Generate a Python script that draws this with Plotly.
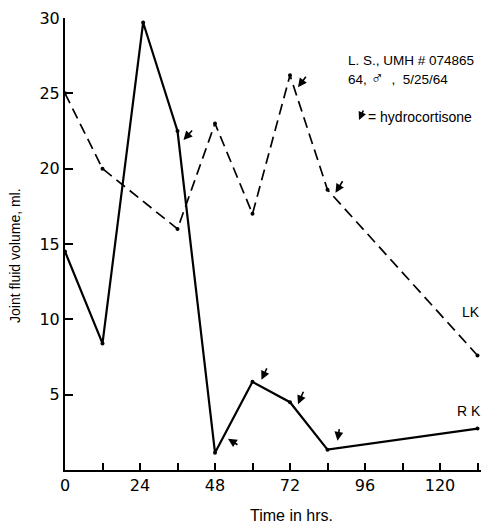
import plotly.graph_objects as go

# Data (time in hrs, joint fluid volume in ml)
rk_time = [0, 12, 25, 36, 48, 60, 72, 84, 132]
rk_vol = [14.5, 8.4, 29.7, 22.5, 1.15, 5.85, 4.5, 1.35, 2.75]
lk_time = [0, 12, 36, 48, 60, 72, 84, 132]
lk_vol = [25.0, 20.0, 16.0, 23.0, 17.0, 26.2, 18.6, 7.6]

x_tickvals = [0, 24, 48, 72, 96, 120]
y_tickvals = [5, 10, 15, 20, 25, 30]

# hydrocortisone doses: index of point in each series
rk_doses = [3, 4, 5, 6, 7]
lk_doses = [5, 6]

PAGE_W, PAGE_H = 481, 524
P_LEFT, P_TOP, P_BOTTOM, P_RIGHT = 65, 18, 470, 481
W, H = PAGE_W, PAGE_H
L = P_LEFT
T = P_TOP
pw = P_RIGHT - P_LEFT
ph = P_BOTTOM - P_TOP
R = W - L - pw
B = H - T - ph

def px(x):
    return (x - P_LEFT) / pw

def py(y):
    return (P_BOTTOM - y) / ph

fig = go.Figure()
fig.add_trace(go.Scatter(x=lk_time, y=lk_vol, mode="lines+markers",
                         line=dict(color="black", width=1.7, dash="11px,6px"),
                         marker=dict(color="black", size=4), showlegend=False))
fig.add_trace(go.Scatter(x=rk_time, y=rk_vol, mode="lines+markers",
                         line=dict(color="black", width=2.2),
                         marker=dict(color="black", size=4), showlegend=False))

# arrow styles: tip offset (dx, dy screen) and tail offset relative to tip
rk_arrow_style = {3: (6, 9, 10, -11), 4: (13, -14, 11, 7), 5: (9, -2, 6, -13),
                  6: (8, 2, 6, -14), 7: (10, -9, 2, -13)}
lk_arrow_style = {5: (8, 12, 9, -12), 6: (8, 3, 8, -13)}

anns = []
for i in rk_doses:
    dx, dy, ax, ay = rk_arrow_style[i]
    anns.append(dict(x=rk_time[i], y=rk_vol[i], xref="x", yref="y", text="",
                     showarrow=True, arrowhead=2, arrowsize=1.1, arrowwidth=1.6,
                     arrowcolor="black", ax=ax, ay=ay, xshift=dx, yshift=-dy))
for i in lk_doses:
    dx, dy, ax, ay = lk_arrow_style[i]
    anns.append(dict(x=lk_time[i], y=lk_vol[i], xref="x", yref="y", text="",
                     showarrow=True, arrowhead=2, arrowsize=1.1, arrowwidth=1.6,
                     arrowcolor="black", ax=ax, ay=ay, xshift=dx, yshift=-dy))

font = "Liberation Sans, Arial, sans-serif"
# legend arrow
anns.append(dict(x=px(359), y=py(120), xref="paper", yref="paper", text="",
                 showarrow=True, arrowhead=2, arrowsize=1.0, arrowwidth=1.6,
                 arrowcolor="black", ax=5, ay=-11))
anns += [
    dict(x=px(346), y=py(61), xref="paper", yref="paper", text="L. S., UMH # 074865",
         showarrow=False, xanchor="left", yanchor="middle", font=dict(family=font, size=13.5, color="black")),
    dict(x=px(346), y=py(78), xref="paper", yref="paper",
         text="64, <span style='font-size:18px'>♂</span>  ,  5/25/64",
         showarrow=False, xanchor="left", yanchor="middle", font=dict(family=font, size=13.5, color="black")),
    dict(x=px(366), y=py(117), xref="paper", yref="paper", text="= hydrocortisone",
         showarrow=False, xanchor="left", yanchor="middle", font=dict(family=font, size=14, color="black")),
    dict(x=px(471), y=py(312), xref="paper", yref="paper", text="LK",
         showarrow=False, xanchor="center", yanchor="middle", font=dict(family=font, size=14, color="black")),
    dict(x=px(469), y=py(411), xref="paper", yref="paper", text="R K",
         showarrow=False, xanchor="center", yanchor="middle", font=dict(family=font, size=14, color="black")),
    dict(x=px(15), y=py(256), xref="paper", yref="paper", text="Joint fluid volume, ml.",
         textangle=-90, showarrow=False, xanchor="center", yanchor="middle",
         font=dict(family=font, size=14, color="black")),
    dict(x=px(291), y=py(515), xref="paper", yref="paper", text="Time in hrs.",
         showarrow=False, xanchor="center", yanchor="middle", font=dict(family=font, size=16, color="black")),
]

tickfont = dict(family="DejaVu Sans, sans-serif", size=16, color="black")
fig.update_layout(
    width=W, height=H, margin=dict(l=L, r=R, t=T, b=B, pad=0),
    paper_bgcolor="white", plot_bgcolor="white",
    annotations=anns,
    xaxis=dict(range=[0, pw / 3.125], tickvals=x_tickvals, ticks="inside", ticklen=7,
               tickwidth=1.5, tickcolor="black", showline=True, linecolor="black", linewidth=2,
               showgrid=False, zeroline=False, tickfont=tickfont,
               minor=dict(dtick=12, tick0=0, ticks="inside", ticklen=7, tickwidth=1.5, tickcolor="black")),
    yaxis=dict(range=[0, 30], tickvals=y_tickvals, ticks="inside", ticklen=8,
               tickwidth=1.5, tickcolor="black", showline=True, linecolor="black", linewidth=2,
               showgrid=False, zeroline=False, tickfont=tickfont),
)
fig.write_html("out.html", config={"displayModeBar": False},
               post_script="document.body.style.margin='0px';")
